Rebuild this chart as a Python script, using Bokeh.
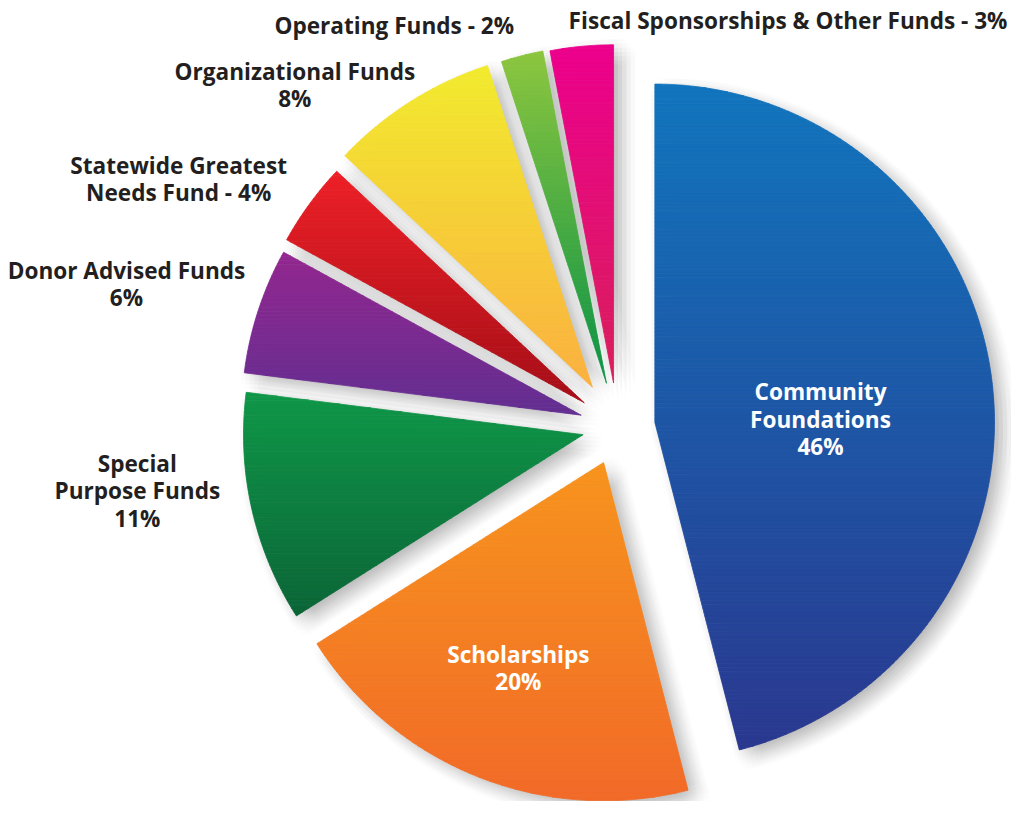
import numpy as np
from bokeh.plotting import figure
from bokeh.models import Range1d
from bokeh.core.properties import value
from bokeh.embed import file_html
from bokeh.resources import INLINE

# ---------------- data ----------------
categories = ["Community Foundations", "Scholarships", "Special Purpose Funds",
              "Donor Advised Funds", "Statewide Greatest Needs Fund",
              "Organizational Funds", "Operating Funds",
              "Fiscal Sponsorships & Other Funds"]
percents = [46, 20, 11, 6, 4, 8, 2, 3]
label_text = [["Community", "Foundations", "{p}%"],
              ["Scholarships", "{p}%"],
              ["Special", "Purpose Funds", "{p}%"],
              ["Donor Advised Funds", "{p}%"],
              ["Statewide Greatest", "Needs Fund - {p}%"],
              ["Organizational Funds", "{p}%"],
              ["Operating Funds - {p}%"],
              ["Fiscal Sponsorships & Other Funds - {p}%"]]

# ---------------- styles / layout ----------------
top_colors = ["#1175bd", "#f7941d", "#0f9748", "#93278f", "#ee2027", "#f2eb2e", "#8dc63f", "#ec008c"]
bottom_colors = ["#2a388f", "#f26a28", "#0b6537", "#622e91", "#a50e17", "#fbb040", "#0a9346", "#d91f5b"]
label_colors = ["white", "white", "#231f20", "#231f20", "#231f20", "#231f20", "#231f20", "#231f20"]
explode = [38, 39, 36, 39, 42, 48, 46, 45]
label_pos = [(833, 399), (526, 667), (139, 472), (128, 275), (181, 168), (299, 72), (400, 25), (800, 20)]
LINE_H = 28
IMG_W, IMG_H = 1027, 817
CX, CY = 627, IMG_H - 435
R = 345


def wedge_poly(cx, cy, r, a0, a1):
    ang = np.radians(np.linspace(a0, a1, max(int(a1 - a0) * 2, 6)))
    xs = [cx] + list(cx + r * np.sin(ang))
    ys = [cy] + list(cy + r * np.cos(ang))
    return list(zip(xs, ys))


def clip(poly, yc, keep_above):
    out = []
    n = len(poly)
    def inside(pt):
        return pt[1] >= yc if keep_above else pt[1] <= yc
    for i in range(n):
        cur, prv = poly[i], poly[i - 1]
        ci, pi = inside(cur), inside(prv)
        if ci:
            if not pi:
                t = (yc - prv[1]) / (cur[1] - prv[1])
                out.append((prv[0] + t * (cur[0] - prv[0]), yc))
            out.append(cur)
        elif pi:
            t = (yc - prv[1]) / (cur[1] - prv[1])
            out.append((prv[0] + t * (cur[0] - prv[0]), yc))
    return out


def hex2rgb(h):
    h = h.lstrip("#")
    return np.array([int(h[i:i + 2], 16) for i in (0, 2, 4)], dtype=float)


def mix(c0, c1, t):
    c = hex2rgb(c0) * (1 - t) + hex2rgb(c1) * t
    return "#%02x%02x%02x" % tuple(int(round(v)) for v in c)


p = figure(width=1011, height=801, output_backend="svg", toolbar_location=None,
           x_range=Range1d(0, IMG_W), y_range=Range1d(0, IMG_H), min_border=0)
p.axis.visible = False
p.grid.visible = False
p.outline_line_color = None
p.background_fill_color = "white"

total = sum(percents)
starts = np.cumsum([0] + percents[:-1]) / total * 360.0
ends = np.cumsum(percents) / total * 360.0

polys = []
for i in range(len(percents)):
    mid = np.radians((starts[i] + ends[i]) / 2)
    ax = CX + explode[i] * np.sin(mid)
    ay = CY + explode[i] * np.cos(mid)
    polys.append(wedge_poly(ax, ay, R, starts[i], ends[i]))

# soft drop shadow
sh_xs, sh_ys = [], []
for poly in polys:
    for ox in np.linspace(-13, 13, 7):
        for oy in np.linspace(-13, 13, 7):
            if ox * ox + oy * oy > 14 * 14:
                continue
            sh_xs.append([q[0] + 9 + ox for q in poly])
            sh_ys.append([q[1] - 7 + oy for q in poly])
p.patches(sh_xs, sh_ys, fill_color="black", fill_alpha=0.0085, line_color=None)

# gradient slices
g_xs, g_ys, g_c = [], [], []
for i, poly in enumerate(polys):
    ys = [q[1] for q in poly]
    ytop, ybot = max(ys), min(ys)
    nb = max(int((ytop - ybot) / 4), 4)
    edges = np.linspace(ytop, ybot, nb + 1)
    for b in range(nb):
        band = clip(poly, edges[b], keep_above=False)
        band = clip(band, edges[b + 1], keep_above=True)
        if len(band) < 3:
            continue
        g_xs.append([q[0] for q in band])
        g_ys.append([q[1] for q in band])
        g_c.append(mix(top_colors[i], bottom_colors[i], (b + 0.5) / nb))
p.patches(g_xs, g_ys, fill_color=g_c, line_color=g_c, line_width=0.8)

# labels
tx, ty, tt, tc = [], [], [], []
for i, lines in enumerate(label_text):
    x0, y0 = label_pos[i]
    for k, line in enumerate(lines):
        tx.append(x0)
        ty.append(IMG_H - (y0 + k * LINE_H))
        tt.append(line.format(p=percents[i]))
        tc.append(label_colors[i])
p.text(tx, ty, text=tt, text_color=tc, text_align="center", text_baseline="middle",
       text_font=value("Open Sans"), text_font_style="bold", text_font_size="22.6px")

open("out.html", "w").write(file_html(p, INLINE))
